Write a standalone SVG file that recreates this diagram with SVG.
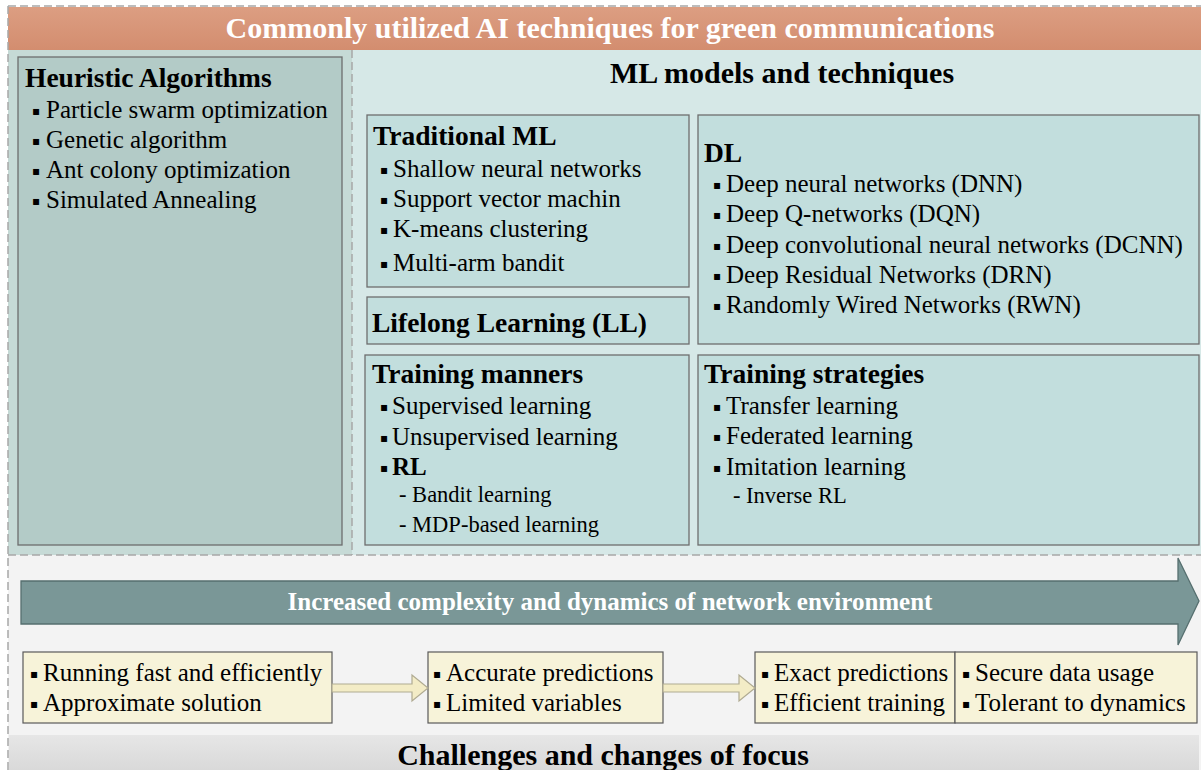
<svg xmlns="http://www.w3.org/2000/svg" width="1201" height="770" viewBox="0 0 1201 770">
<defs>
<linearGradient id="hdr" x1="0" y1="0" x2="0" y2="1"><stop offset="0" stop-color="#DC9E82"/><stop offset="1" stop-color="#D38D6F"/></linearGradient>
<linearGradient id="foot" x1="0" y1="0" x2="0" y2="1"><stop offset="0" stop-color="#E6E6E6"/><stop offset="1" stop-color="#D9D9D9"/></linearGradient>
<style>
text{font-family:"Liberation Serif","Times New Roman",serif;font-size:25px;fill:#000}
.h{font-weight:bold;font-size:27.5px}
.big{font-weight:bold;font-size:30px}
.mid{font-weight:bold;font-size:25px}
.sub{font-size:22.5px}
.w{fill:#fff}
.b{font-family:"DejaVu Sans",sans-serif;font-size:12px}
.box{fill:#C2DEDD;stroke:#6E6E6E;stroke-width:1.3}
.hbox{fill:#B3CBC7;stroke:#6E6E6E;stroke-width:1.3}
.ybox{fill:#F7F3D9;stroke:#5A5A5A;stroke-width:1.2}
.dash{stroke:#A8A8A8;stroke-width:1.5;stroke-dasharray:8 4;fill:none}
.sarrow{fill:#F3ECC6;stroke:#B0AB92;stroke-width:1.2}
</style>
</defs>
<rect x="0" y="0" width="1201" height="770" fill="#fff"/>
<rect x="8" y="555" width="1193" height="215" fill="#F3F3F3"/>
<rect x="8" y="50" width="344" height="505" fill="#C6DAD6"/>
<rect x="352" y="50" width="849" height="505" fill="#D6E8E7"/>
<rect x="8" y="7" width="1193" height="43" fill="url(#hdr)"/>
<rect x="9" y="735" width="1190" height="35" fill="url(#foot)"/>
<line class="dash" x1="8" y1="6" x2="1201" y2="6"/>
<line class="dash" x1="8" y1="6" x2="8" y2="770"/>
<line class="dash" x1="8" y1="555" x2="1201" y2="555"/>
<line class="dash" x1="352" y1="50" x2="352" y2="555"/>

<g id="header"><text class="big w" x="610" y="38" text-anchor="middle">Commonly utilized AI techniques for green communications</text></g>

<g id="heuristic">
<rect class="hbox" x="18" y="57" width="324" height="488"/>
<text class="h" x="25" y="87">Heuristic Algorithms</text>
<text y="118"><tspan class="b" x="32" dy="-3">▪</tspan><tspan x="46" dy="3">Particle swarm optimization</tspan></text>
<text y="148"><tspan class="b" x="32" dy="-3">▪</tspan><tspan x="46" dy="3">Genetic algorithm</tspan></text>
<text y="178"><tspan class="b" x="32" dy="-3">▪</tspan><tspan x="46" dy="3">Ant colony optimization</tspan></text>
<text y="208"><tspan class="b" x="32" dy="-3">▪</tspan><tspan x="46" dy="3">Simulated Annealing</tspan></text>
</g>

<g id="ml-title"><text class="big" x="782" y="83" text-anchor="middle">ML models and techniques</text></g>

<g id="traditional-ml">
<rect class="box" x="367" y="115" width="322" height="172"/>
<text class="h" x="373" y="145">Traditional ML</text>
<text y="177"><tspan class="b" x="380" dy="-3">▪</tspan><tspan x="393" dy="3">Shallow neural networks</tspan></text>
<text y="207"><tspan class="b" x="380" dy="-3">▪</tspan><tspan x="393" dy="3">Support vector machin</tspan></text>
<text y="237"><tspan class="b" x="380" dy="-3">▪</tspan><tspan x="393" dy="3">K-means clustering</tspan></text>
<text y="271"><tspan class="b" x="380" dy="-3">▪</tspan><tspan x="393" dy="3">Multi-arm bandit</tspan></text>
</g>

<g id="lifelong">
<rect class="box" x="367" y="297" width="322" height="47"/>
<text class="h" x="372" y="332">Lifelong Learning (LL)</text>
</g>

<g id="dl">
<rect class="box" x="698" y="115" width="501" height="229"/>
<text class="h" x="704" y="162">DL</text>
<text y="192"><tspan class="b" x="713" dy="-3">▪</tspan><tspan x="726" dy="3">Deep neural networks (DNN)</tspan></text>
<text y="222"><tspan class="b" x="713" dy="-3">▪</tspan><tspan x="726" dy="3">Deep Q-networks (DQN)</tspan></text>
<text y="253"><tspan class="b" x="713" dy="-3">▪</tspan><tspan x="726" dy="3">Deep convolutional neural networks (DCNN)</tspan></text>
<text y="283"><tspan class="b" x="713" dy="-3">▪</tspan><tspan x="726" dy="3">Deep Residual Networks (DRN)</tspan></text>
<text y="313"><tspan class="b" x="713" dy="-3">▪</tspan><tspan x="726" dy="3">Randomly Wired Networks (RWN)</tspan></text>
</g>

<g id="training-manners">
<rect class="box" x="365" y="355" width="324" height="190"/>
<text class="h" x="372" y="383">Training manners</text>
<text y="414"><tspan class="b" x="380" dy="-3">▪</tspan><tspan x="392" dy="3">Supervised learning</tspan></text>
<text y="445"><tspan class="b" x="380" dy="-3">▪</tspan><tspan x="392" dy="3">Unsupervised learning</tspan></text>
<text y="475"><tspan class="b" x="380" dy="-3">▪</tspan><tspan x="392" dy="3" font-weight="bold">RL</tspan></text>
<text class="sub" x="399" y="502">- Bandit learning</text>
<text class="sub" x="399" y="532">- MDP-based learning</text>
</g>

<g id="training-strategies">
<rect class="box" x="698" y="355" width="501" height="190"/>
<text class="h" x="704" y="383">Training strategies</text>
<text y="414"><tspan class="b" x="713" dy="-3">▪</tspan><tspan x="726" dy="3">Transfer learning</tspan></text>
<text y="444"><tspan class="b" x="713" dy="-3">▪</tspan><tspan x="726" dy="3">Federated learning</tspan></text>
<text y="475"><tspan class="b" x="713" dy="-3">▪</tspan><tspan x="726" dy="3">Imitation learning</tspan></text>
<text class="sub" x="733" y="503">- Inverse RL</text>
</g>

<g id="trend-arrow">
<polygon points="21,581 1178,581 1178,558 1199,601 1178,645 1178,624 21,624" fill="#7A9797" stroke="#566F6F" stroke-width="1.3"/>
<text class="mid w" x="610" y="610" text-anchor="middle">Increased complexity and dynamics of network environment</text>
</g>

<g id="focus-heuristic">
<rect class="ybox" x="23" y="652" width="309" height="71"/>
<text y="681"><tspan class="b" x="30" dy="-3">▪</tspan><tspan x="43" dy="3">Running fast and efficiently</tspan></text>
<text y="711"><tspan class="b" x="30" dy="-3">▪</tspan><tspan x="43" dy="3">Approximate solution</tspan></text>
</g>
<g id="focus-traditional">
<rect class="ybox" x="428" y="652" width="235" height="71"/>
<text y="681"><tspan class="b" x="433" dy="-3">▪</tspan><tspan x="446" dy="3">Accurate predictions</tspan></text>
<text y="711"><tspan class="b" x="433" dy="-3">▪</tspan><tspan x="446" dy="3">Limited variables</tspan></text>
</g>
<g id="focus-dl">
<rect class="ybox" x="755" y="652" width="200" height="71"/>
<text y="681"><tspan class="b" x="761" dy="-3">▪</tspan><tspan x="774" dy="3">Exact predictions</tspan></text>
<text y="711"><tspan class="b" x="761" dy="-3">▪</tspan><tspan x="774" dy="3">Efficient training</tspan></text>
</g>
<g id="focus-strategies">
<rect class="ybox" x="955" y="652" width="242" height="71"/>
<text y="681"><tspan class="b" x="962" dy="-3">▪</tspan><tspan x="975" dy="3">Secure data usage</tspan></text>
<text y="711"><tspan class="b" x="962" dy="-3">▪</tspan><tspan x="975" dy="3">Tolerant to dynamics</tspan></text>
</g>

<g id="connectors">
<polygon class="sarrow" points="332,684 412,684 412,675 428,688 412,701 412,692 332,692"/>
<polygon class="sarrow" points="663,684 739,684 739,675 755,688 739,701 739,692 663,692"/>
</g>

<g id="footer"><text class="big" x="603" y="765" text-anchor="middle">Challenges and changes of focus</text></g>
</svg>
